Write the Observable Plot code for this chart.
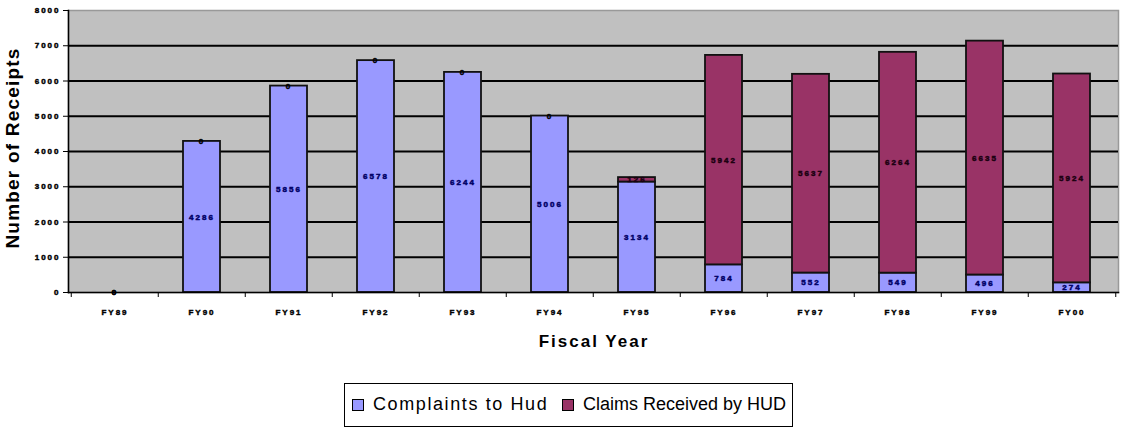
<!DOCTYPE html>
<html>
<head>
<meta charset="utf-8">
<script src="https://cdn.jsdelivr.net/npm/d3@7"></script>
<script src="https://cdn.jsdelivr.net/npm/@observablehq/plot@0.6"></script>
<style>
  html, body { margin: 0; padding: 0; background: #fff; }
  body { position: relative; width: 1122px; height: 428px; overflow: hidden; font-family: "Liberation Sans", Arial, sans-serif; }
  #chart { position: absolute; left: 0; top: 0; }
  #chart svg text { letter-spacing: 2px; }
  #chart svg g[aria-label="y-axis tick label"], #chart svg g[aria-label="x-axis tick label"] { stroke: #000; stroke-width: 0.45px; }
  .ylabel { position: absolute; left: -137px; top: 136px; width: 300px; height: 24px; line-height: 24px; text-align: center;
            transform: rotate(-90deg); font-weight: bold; font-size: 19px; letter-spacing: 1.2px; color: #000; }
  .xlabel { position: absolute; left: 444px; top: 331px; width: 300px; line-height: 22px; text-align: center;
            font-weight: bold; font-size: 17px; letter-spacing: 2px; color: #000; }
  .legend { position: absolute; left: 344px; top: 383px; width: 447px; height: 42px; border: 1px solid #000; background: #fff; }
  .legend .sw { position: absolute; top: 15px; width: 10px; height: 10px; border: 1px solid #000; }
  .legend .lt { position: absolute; top: 9px; font-size: 18px; line-height: 22px; color: #000; white-space: nowrap; }
</style>
</head>
<body>
<div id="chart"></div>
<div class="ylabel">Number of Receipts</div>
<div class="xlabel">Fiscal Year</div>
<div class="legend" id="legend"></div>
<script>
// ---- data ----
const years = ["FY89", "FY90", "FY91", "FY92", "FY93", "FY94", "FY95", "FY96", "FY97", "FY98", "FY99", "FY00"];
const complaints = [0, 4286, 5856, 6578, 6244, 5006, 3134, 784, 552, 549, 496, 274];
const claims = [0, 0, 0, 0, 0, 0, 126, 5942, 5637, 6264, 6635, 5924];
const seriesNames = ["Complaints to Hud", "Claims Received by HUD"];
const seriesColors = ["#9999ff", "#993366"];
const yTicks = [0, 1000, 2000, 3000, 4000, 5000, 6000, 7000, 8000];
const gridValues = [1000, 2000, 3000, 4000, 5000, 6000, 7000];

// ---- layout ----
const W = 1122, H = 370, ML = 68, MR = 4, MT = 10, MB = 78;
const step = (W - ML - MR) / years.length;

const data = years.flatMap((yr, i) => [
  {year: yr, series: seriesNames[0], value: complaints[i]},
  {year: yr, series: seriesNames[1], value: claims[i]}
]);

const labelColor = d => d.value === 0 ? "#000" : (d.series === seriesNames[0] ? "#000066" : "#1a0010");

const chart = Plot.plot({
  width: W, height: H,
  marginLeft: ML, marginRight: MR, marginTop: MT, marginBottom: MB,
  style: {fontFamily: "Liberation Sans, Arial, sans-serif", fontSize: "8px", fontWeight: "bold", background: "#fff", overflow: "visible"},
  x: {domain: years, paddingInner: 0.58, paddingOuter: 0.29, axis: null},
  y: {domain: [0, 8000], axis: null},
  color: {domain: seriesNames, range: seriesColors},
  marks: [
    Plot.frame({fill: "#c0c0c0", stroke: "#999", strokeWidth: 1.5}),
    Plot.ruleY(gridValues, {stroke: "#000", strokeWidth: 1.8}),
    Plot.barY(data.filter(d => d.value > 0), {x: "year", y: "value", fill: "series", stroke: "#111", strokeWidth: 1.8}),
    Plot.text(data, Plot.stackY({
      x: "year", y: "value",
      text: d => String(d.value),
      fill: labelColor, stroke: labelColor, strokeWidth: 0.5,
      fontSize: 8, fontWeight: "bold"
    })),
    Plot.frame({anchor: "left", stroke: "#000", strokeWidth: 1.5}),
    Plot.frame({anchor: "bottom", stroke: "#000", strokeWidth: 1.5}),
    Plot.axisY({ticks: yTicks, tickSize: 5, tickPadding: 3, tickFormat: d => String(d), label: null, stroke: "#000"}),
    Plot.axisX({tickSize: 5, dx: -step / 2, tickFormat: () => "", label: null}),
    Plot.axisX({ticks: [years[years.length - 1]], tickSize: 5, dx: step / 2, tickFormat: () => "", label: null}),
    Plot.axisX({tickSize: 0, tickPadding: 17, label: null})
  ]
});
document.getElementById("chart").appendChild(chart);

// ---- legend ----
const legend = document.getElementById("legend");
const swX = [7, 217], txtX = [28, 238], txtSpacing = ["1.6px", "0px"];
seriesNames.forEach((name, i) => {
  const sw = document.createElement("div");
  sw.className = "sw";
  sw.style.left = swX[i] + "px";
  sw.style.background = seriesColors[i];
  legend.appendChild(sw);
  const t = document.createElement("div");
  t.className = "lt";
  t.style.left = txtX[i] + "px";
  t.style.letterSpacing = txtSpacing[i];
  t.textContent = name;
  legend.appendChild(t);
});
</script>
</body>
</html>
